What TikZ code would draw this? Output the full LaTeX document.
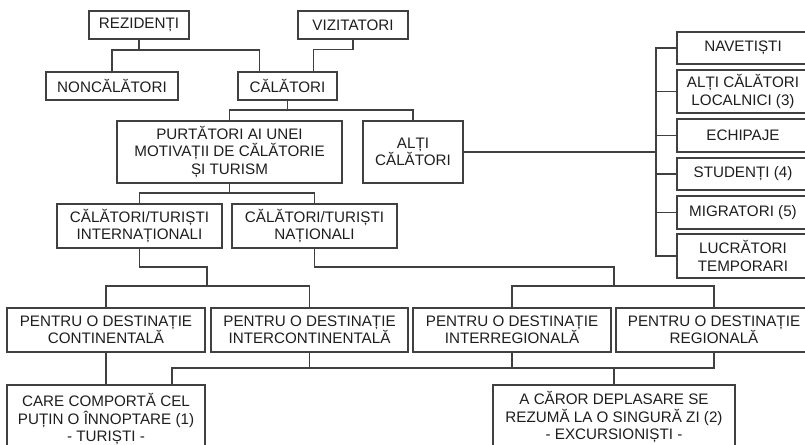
\documentclass[tikz,border=0pt]{standalone}
\usepackage{fontspec}
\setmainfont{Liberation Sans}
\definecolor{linecol}{HTML}{404040}
\definecolor{textcol}{HTML}{1E1E1E}
\newcommand\bx[6]{\node[box, minimum width={(#4-#2)*0.75pt}, minimum height={(#5-#3)*0.75pt}] (#1) at ({(#2+#4)/2},{(#3+#5)/2}) {#6};}
\begin{document}
\begin{tikzpicture}[x=0.75pt,y=-0.75pt,
  box/.style={draw=linecol, line width=1.1pt, inner sep=0pt, align=center, text=textcol, font=\fontsize{11.4}{13.1}\selectfont},
  conn/.style={draw=linecol, line width=1.1pt}]
\useasboundingbox (0,0) rectangle (805,444);
\clip (0,0) rectangle (805,444);
\fill[white] (0,0) rectangle (805,444);
% boxes
\bx{rez}{89}{11}{189}{39}{REZIDENȚI}
\bx{viz}{298}{11}{408}{39}{VIZITATORI}
\bx{non}{46}{72}{178}{100}{NONCĂLĂTORI}
\bx{cal}{238}{72}{337}{100}{CĂLĂTORI}
\bx{purt}{117}{121}{342}{183}{PURTĂTORI AI UNEI\\MOTIVAȚII DE CĂLĂTORIE\\ȘI TURISM}
\bx{alti}{363}{121}{463}{183}{ALȚI\\CĂLĂTORI}
\bx{intl}{57}{204}{222}{248}{CĂLĂTORI/TURIȘTI\\INTERNAȚIONALI}
\bx{nat}{232}{204}{397}{248}{CĂLĂTORI/TURIȘTI\\NAȚIONALI}
\bx{cont}{7}{308}{205}{352}{PENTRU O DESTINAȚIE\\CONTINENTALĂ}
\bx{interc}{211}{308}{408}{352}{PENTRU O DESTINAȚIE\\INTERCONTINENTALĂ}
\bx{interr}{413}{308}{611}{352}{PENTRU O DESTINAȚIE\\INTERREGIONALĂ}
\bx{reg}{616}{308}{812}{352}{PENTRU O DESTINAȚIE\\REGIONALĂ}
\bx{care}{7}{385}{205}{453}{CARE COMPORTĂ CEL\\PUȚIN O ÎNNOPTARE (1)\\- TURIȘTI -}
\bx{acar}{493}{385}{735}{449}{A CĂROR DEPLASARE SE\\REZUMĂ LA O SINGURĂ ZI (2)\\- EXCURSIONIȘTI -}
\bx{nav}{677}{32}{809}{64}{NAVETIȘTI}
\bx{loc}{677}{70}{809}{113}{ALȚI CĂLĂTORI\\LOCALNICI (3)}
\bx{ech}{677}{119}{809}{152}{ECHIPAJE}
\bx{stud}{677}{158}{809}{190}{STUDENȚI (4)}
\bx{migr}{677}{196}{809}{229}{MIGRATORI (5)}
\bx{lucr}{677}{234}{809}{278}{LUCRĂTORI\\TEMPORARI}
% connectors
\coordinate (j1) at (139,50);
\draw[conn] (rez.south) -- (j1);
\draw[conn] (non.north) |- (j1) -| ([xshift=16.5pt]cal.north west);
\draw[conn] (viz.south) -- ++(0,10) -| ([xshift=57pt]cal.north west);
\coordinate (j3) at (287.5,110);
\draw[conn] (cal.south) -- (j3);
\draw[conn] (purt.north) |- (j3) -| (alti.north);
\coordinate (bus) at (656,152);
\draw[conn] (alti.east) -- (bus);
\draw[conn] (nav.west) -- (nav.west -| bus) -- (lucr.west -| bus) -- (lucr.west);
\foreach \n in {loc,ech,stud,migr} \draw[conn] (\n.west) -- (\n.west -| bus);
\coordinate (j5) at (229.5,193);
\draw[conn] (purt.south) -- (j5);
\draw[conn] (intl.north) |- (j5) -| (nat.north);
\coordinate (j6) at (207,286);
\draw[conn] (intl.south) |- (207,267) -- (j6);
\draw[conn] (cont.north) |- (j6) -| (interc.north);
\coordinate (j7) at (614,286);
\draw[conn] (nat.south) |- (614,267) -- (j7);
\draw[conn] (interr.north) |- (j7) -| (reg.north);
\coordinate (j8a) at (172,368);
\coordinate (j8b) at (714,368);
\draw[conn] (j8a |- care.north) -- (j8a) -- (j8b) -- (reg.south);
\draw[conn] (interc.south) -- (interc.south |- j8a);
\draw[conn] (interr.south) -- (interr.south |- j8a);
\draw[conn] (acar.north) -- (acar.north |- j8a);
\draw[conn] (cont.south) -- (care.north);
\end{tikzpicture}
\end{document}
